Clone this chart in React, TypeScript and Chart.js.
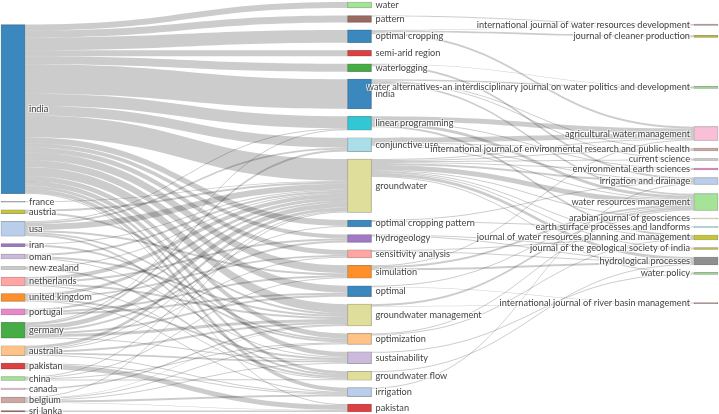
import { useEffect, useRef } from "react";
import { Chart, registerables } from "chart.js";

Chart.register(...registerables);

// ---------- data ----------
const countries = [
  "india", "france", "austria", "usa", "iran", "oman", "new zealand", "netherlands",
  "united kingdom", "portugal", "germany", "australia", "pakistan", "china", "canada",
  "belgium", "sri lanka",
];

const keywords = [
  "water", "pattern", "optimal cropping", "semi-arid region", "waterlogging", "india",
  "linear programming", "conjunctive use", "groundwater", "optimal cropping pattern",
  "hydrogeology", "sensitivity analysis", "simulation", "optimal", "groundwater management",
  "optimization", "sustainability", "groundwater flow", "irrigation", "pakistan",
];

const journals = [
  "international journal of water resources development",
  "journal of cleaner production",
  "water alternatives-an interdisciplinary journal on water politics and development",
  "agricultural water management",
  "international journal of environmental research and public health",
  "current science",
  "environmental earth sciences",
  "irrigation and drainage",
  "water resources management",
  "arabian journal of geosciences",
  "earth surface processes and landforms",
  "journal of water resources planning and management",
  "journal of the geological society of india",
  "hydrological processes",
  "water policy",
  "international journal of river basin management",
];

const countryKeywordLinks: [string, string, number][] = [
  ["india", "water", 6], ["india", "pattern", 7], ["india", "optimal cropping", 13],
  ["india", "semi-arid region", 6], ["india", "waterlogging", 8], ["india", "india", 30],
  ["india", "linear programming", 12], ["india", "conjunctive use", 10], ["india", "groundwater", 22],
  ["india", "optimal cropping pattern", 6], ["india", "hydrogeology", 4], ["india", "sensitivity analysis", 5],
  ["india", "simulation", 8], ["india", "optimal", 7], ["india", "groundwater management", 9],
  ["india", "optimization", 5], ["india", "sustainability", 5], ["india", "groundwater flow", 3],
  ["india", "irrigation", 4], ["india", "pakistan", 1],
  ["france", "groundwater", 1],
  ["austria", "groundwater", 2], ["austria", "groundwater management", 2],
  ["usa", "linear programming", 1], ["usa", "conjunctive use", 2], ["usa", "groundwater", 6],
  ["usa", "simulation", 2], ["usa", "optimization", 2], ["usa", "groundwater flow", 2],
  ["iran", "groundwater", 1], ["iran", "optimization", 2],
  ["oman", "groundwater", 2], ["oman", "groundwater management", 2], ["oman", "sustainability", 1],
  ["new zealand", "groundwater", 1], ["new zealand", "groundwater flow", 2],
  ["netherlands", "groundwater", 4], ["netherlands", "hydrogeology", 2],
  ["netherlands", "groundwater management", 2], ["netherlands", "groundwater flow", 1],
  ["united kingdom", "groundwater", 3], ["united kingdom", "sensitivity analysis", 2],
  ["united kingdom", "sustainability", 2], ["united kingdom", "irrigation", 1],
  ["portugal", "groundwater", 2], ["portugal", "simulation", 2], ["portugal", "optimal", 2],
  ["germany", "linear programming", 1], ["germany", "conjunctive use", 2], ["germany", "groundwater", 5],
  ["germany", "hydrogeology", 2], ["germany", "groundwater management", 3], ["germany", "optimal", 2],
  ["germany", "sustainability", 1],
  ["australia", "groundwater", 3], ["australia", "optimal cropping pattern", 1],
  ["australia", "sensitivity analysis", 1], ["australia", "groundwater management", 2],
  ["australia", "sustainability", 2], ["australia", "irrigation", 1],
  ["pakistan", "irrigation", 1], ["pakistan", "pakistan", 5],
  ["china", "groundwater", 1], ["china", "simulation", 1], ["china", "optimization", 1],
  ["china", "groundwater flow", 1],
  ["canada", "groundwater management", 1.5],
  ["belgium", "groundwater", 1], ["belgium", "groundwater management", 0.5], ["belgium", "optimization", 1],
  ["belgium", "sustainability", 1], ["belgium", "irrigation", 2], ["belgium", "pakistan", 0.5],
  ["sri lanka", "pakistan", 1.5],
];

const keywordJournalLinks: [string, string, number][] = [
  ["pattern", "international journal of water resources development", 1],
  ["optimal cropping", "international journal of water resources development", 0.5],
  ["optimal cropping", "journal of cleaner production", 2],
  ["india", "water alternatives-an interdisciplinary journal on water politics and development", 1.5],
  ["waterlogging", "water alternatives-an interdisciplinary journal on water politics and development", 0.5],
  ["linear programming", "agricultural water management", 5],
  ["conjunctive use", "agricultural water management", 5],
  ["optimal cropping", "agricultural water management", 2],
  ["groundwater", "agricultural water management", 1],
  ["simulation", "agricultural water management", 1],
  ["india", "international journal of environmental research and public health", 1],
  ["conjunctive use", "international journal of environmental research and public health", 1],
  ["groundwater", "international journal of environmental research and public health", 1],
  ["india", "current science", 1], ["groundwater", "current science", 1],
  ["groundwater", "environmental earth sciences", 1], ["linear programming", "environmental earth sciences", 1],
  ["waterlogging", "irrigation and drainage", 2], ["groundwater", "irrigation and drainage", 2],
  ["irrigation", "irrigation and drainage", 1], ["optimal cropping pattern", "irrigation and drainage", 1],
  ["conjunctive use", "irrigation and drainage", 1],
  ["groundwater", "water resources management", 5], ["linear programming", "water resources management", 3],
  ["india", "water resources management", 2], ["conjunctive use", "water resources management", 1],
  ["simulation", "water resources management", 2], ["groundwater management", "water resources management", 2],
  ["optimization", "water resources management", 1], ["optimal", "water resources management", 1],
  ["groundwater", "arabian journal of geosciences", 1],
  ["optimal cropping pattern", "earth surface processes and landforms", 1],
  ["linear programming", "journal of water resources planning and management", 2],
  ["sensitivity analysis", "journal of water resources planning and management", 1],
  ["optimization", "journal of water resources planning and management", 1],
  ["groundwater", "journal of water resources planning and management", 1],
  ["hydrogeology", "journal of the geological society of india", 1],
  ["groundwater", "journal of the geological society of india", 1],
  ["groundwater flow", "hydrological processes", 1], ["groundwater", "hydrological processes", 3],
  ["simulation", "hydrological processes", 2], ["hydrogeology", "hydrological processes", 1],
  ["sensitivity analysis", "hydrological processes", 1],
  ["sustainability", "water policy", 1], ["groundwater", "water policy", 1],
  ["optimal", "international journal of river basin management", 0.5],
  ["groundwater management", "international journal of river basin management", 0.5],
];

// ---------- styles ----------
const countryColors = [
  "#1f77b4", "#7f7f7f", "#bcbd22", "#aec7e8", "#9467bd", "#c5b0d5", "#c7c7c7", "#ff9896",
  "#ff7f0e", "#e377c2", "#2ca02c", "#ffbb78", "#d62728", "#98df8a", "#f7b6d2", "#c49c94", "#8c564b",
];
const keywordColors = [
  "#98df8a", "#8c564b", "#1f77b4", "#d62728", "#2ca02c", "#1f77b4", "#17becf", "#9edae5",
  "#dbdb8d", "#1f77b4", "#9467bd", "#ff9896", "#ff7f0e", "#1f77b4", "#dbdb8d", "#ffbb78",
  "#c5b0d5", "#dbdb8d", "#aec7e8", "#d62728",
];
const journalColors = [
  "#c49c94", "#bcbd22", "#98df8a", "#f7b6d2", "#c49c94", "#c7c7c7", "#e377c2", "#aec7e8",
  "#98df8a", "#dbdb8d", "#17becf", "#bcbd22", "#bcbd22", "#7f7f7f", "#98df8a", "#8c564b",
];

const NODE_WIDTH = 24;
const NODE_PAD = 7.6;
const LABEL_GAP = 4;
const FONT = "9.2px Lato";

type SNode = {
  name: string; col: number; value: number; y0: number; y1: number; color: string;
  ins: SLink[]; outs: SLink[];
};
type SLink = { s: SNode; t: SNode; v: number; sy: number; ty: number };

function withAlpha(hex: string, a: number) {
  const r = parseInt(hex.slice(1, 3), 16), g = parseInt(hex.slice(3, 5), 16), b = parseInt(hex.slice(5, 7), 16);
  return `rgba(${r},${g},${b},${a})`;
}

function buildLayout() {
  const names = [countries, keywords, journals];
  const colors = [countryColors, keywordColors, journalColors];
  const cols: SNode[][] = names.map((list, c) =>
    list.map((name, i) => ({ name, col: c, value: 0, y0: 0, y1: 0, color: colors[c][i], ins: [], outs: [] }))
  );
  const links: SLink[] = [];
  const add = (sc: number, list: [string, string, number][]) => {
    list.forEach(([a, b, v]) => {
      const s = cols[sc].find((n) => n.name === a)!;
      const t = cols[sc + 1].find((n) => n.name === b)!;
      const l: SLink = { s, t, v, sy: 0, ty: 0 };
      s.outs.push(l); t.ins.push(l); links.push(l);
    });
  };
  add(0, countryKeywordLinks);
  add(1, keywordJournalLinks);
  const sum = (ls: SLink[]) => ls.reduce((a, l) => a + l.v, 0);
  cols.flat().forEach((n) => { n.value = Math.max(sum(n.ins), sum(n.outs)); });
  const span = Math.max(...cols.map((col) => col.reduce((a, n) => a + n.value, 0) + (col.length - 1) * NODE_PAD));

  cols.forEach((col) => {
    let y = 0;
    col.forEach((n) => { n.y0 = y; n.y1 = y + n.value; y = n.y1 + NODE_PAD; });
  });
  const center = (n: SNode) => (n.y0 + n.y1) / 2;
  const resolve = (col: SNode[]) => {
    let y = 0;
    for (const n of col) {
      const d = y - n.y0;
      if (d > 0) { n.y0 += d; n.y1 += d; }
      y = n.y1 + NODE_PAD;
    }
    let yb = span;
    for (let i = col.length - 1; i >= 0; i--) {
      const n = col[i];
      const d = n.y1 - yb;
      if (d > 0) { n.y0 -= d; n.y1 -= d; }
      yb = n.y0 - NODE_PAD;
    }
  };
  const relax = (col: SNode[], side: "ins" | "outs") => {
    col.forEach((n) => {
      const ls = n[side];
      const w = sum(ls);
      if (!w) return;
      const c = ls.reduce((a, l) => a + center(side === "ins" ? l.s : l.t) * l.v, 0) / w;
      n.y0 = c - n.value / 2; n.y1 = c + n.value / 2;
    });
    resolve(col);
  };
  relax(cols[0], "outs");
  relax(cols[2], "ins");

  cols.flat().forEach((n) => {
    let y = n.y0;
    [...n.outs].sort((a, b) => a.t.y0 - b.t.y0).forEach((l) => { l.sy = y; y += l.v; });
    y = n.y0;
    [...n.ins].sort((a, b) => a.s.y0 - b.s.y0).forEach((l) => { l.ty = y; y += l.v; });
  });
  return { nodes: cols.flat(), links, span };
}

export default function App() {
  const ref = useRef<HTMLCanvasElement | null>(null);
  useEffect(() => {
    if (!ref.current) return;
    const { nodes, links, span } = buildLayout();

    const linkPlugin = {
      id: "sankeyLinks",
      beforeDatasetsDraw(chart: any) {
        const { ctx } = chart;
        const xs = chart.scales.x, ys = chart.scales.y;
        ctx.save();
        ctx.fillStyle = "rgba(0,0,0,0.2)";
        links.forEach((l) => {
          const x0 = xs.getPixelForValue(l.s.col) + NODE_WIDTH / 2;
          const x1 = xs.getPixelForValue(l.t.col) - NODE_WIDTH / 2;
          const xm = (x0 + x1) / 2;
          const a0 = ys.getPixelForValue(l.sy), a1 = ys.getPixelForValue(l.sy + l.v);
          const b0 = ys.getPixelForValue(l.ty), b1 = ys.getPixelForValue(l.ty + l.v);
          ctx.beginPath();
          ctx.moveTo(x0, a0);
          ctx.bezierCurveTo(xm, a0, xm, b0, x1, b0);
          ctx.lineTo(x1, b1);
          ctx.bezierCurveTo(xm, b1, xm, a1, x0, a1);
          ctx.closePath();
          ctx.fill();
        });
        ctx.restore();
      },
    };

    const labelPlugin = {
      id: "sankeyLabels",
      afterDatasetsDraw(chart: any) {
        const { ctx } = chart;
        const xs = chart.scales.x, ys = chart.scales.y;
        ctx.save();
        ctx.font = FONT;
        ctx.textBaseline = "middle";
        nodes.forEach((n) => {
          const cx = xs.getPixelForValue(n.col);
          const cy = ys.getPixelForValue((n.y0 + n.y1) / 2);
          const right = n.col === 2;
          const x = right ? cx - NODE_WIDTH / 2 - LABEL_GAP : cx + NODE_WIDTH / 2 + LABEL_GAP;
          ctx.textAlign = right ? "right" : "left";
          ctx.fillStyle = "rgba(255,255,255,0.75)";
          for (const [dx, dy] of [[1, 1], [1, -1], [-1, 1], [-1, -1]]) ctx.fillText(n.name, x + dx, cy + dy);
          ctx.fillStyle = "#444";
          ctx.fillText(n.name, x, cy);
        });
        ctx.restore();
      },
    };

    const chart = new Chart(ref.current, {
      type: "bar",
      data: {
        datasets: [
          {
            data: nodes.map((n) => ({ x: n.col, y: [n.y0, n.y1] })) as any,
            backgroundColor: nodes.map((n) => withAlpha(n.color, 0.88)),
            borderColor: "rgba(68,68,68,0.6)",
            borderWidth: 0.5,
            borderSkipped: false,
            barThickness: NODE_WIDTH,
            clip: false as any,
          },
        ],
      },
      options: {
        animation: false,
        responsive: true,
        maintainAspectRatio: false,
        layout: { padding: { left: 13, right: 13, top: 2, bottom: 2 } },
        scales: {
          x: { type: "linear", min: 0, max: 2, offset: false, display: false },
          y: { type: "linear", min: 0, max: span, reverse: true, display: false },
        },
        plugins: { legend: { display: false }, tooltip: { enabled: false } },
      },
      plugins: [linkPlugin, labelPlugin],
    });
    return () => chart.destroy();
  }, []);

  return (
    <div style={{ position: "absolute", left: 0, top: 0, width: 719, height: 414 }}>
      <canvas ref={ref} />
    </div>
  );
}
